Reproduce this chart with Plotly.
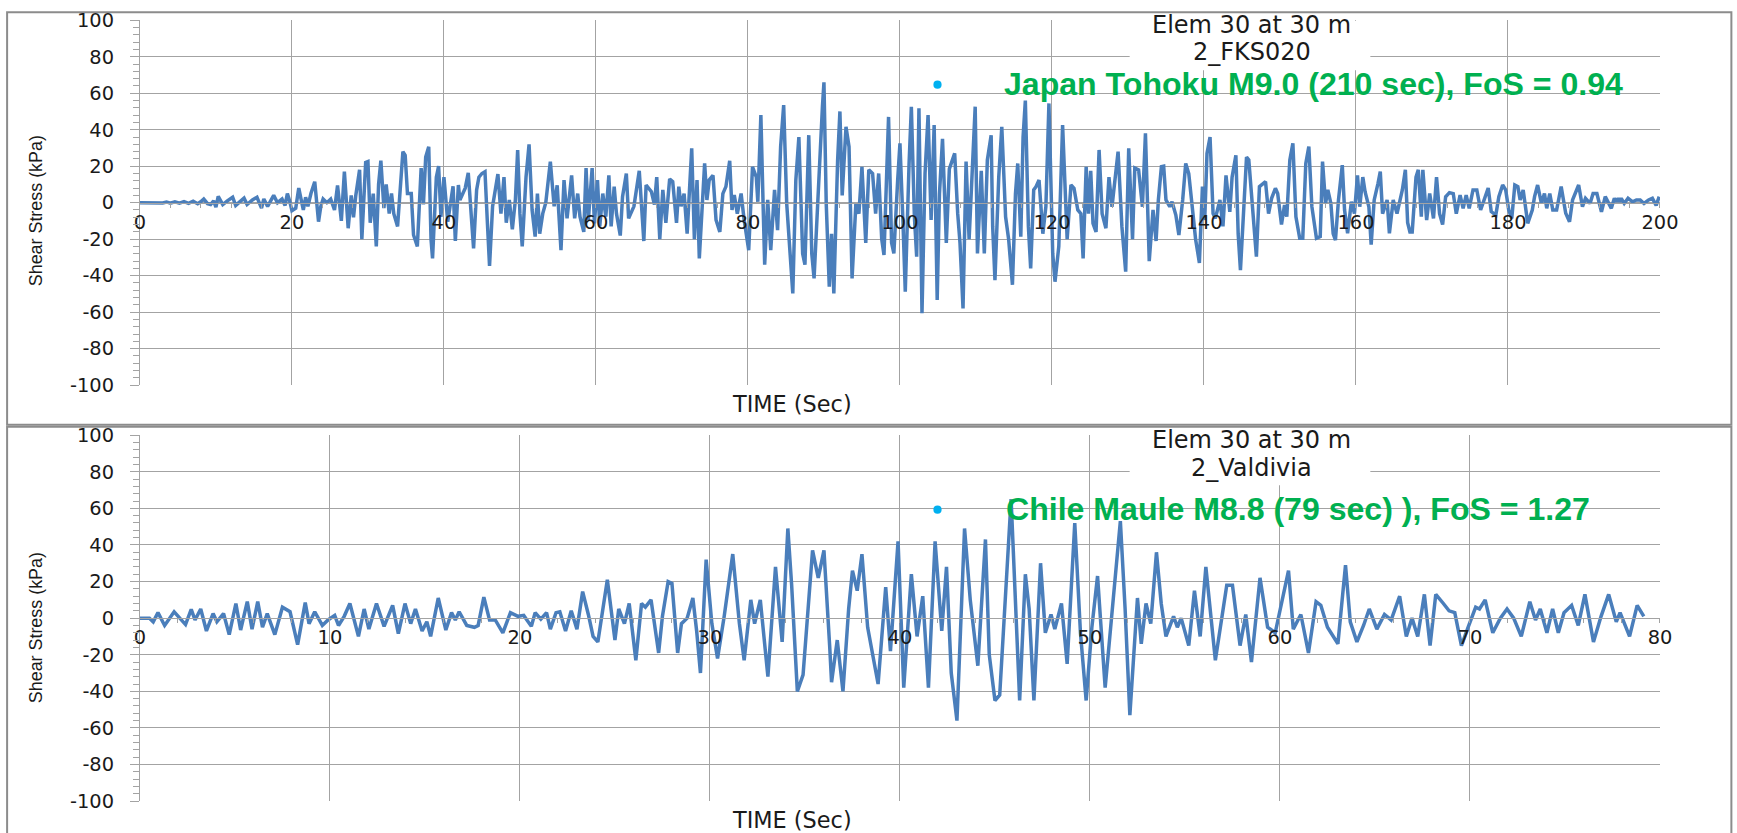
import plotly.graph_objects as go

# Layout is designed in page pixels of a 1737x833 canvas; the page adds an
# 8 px inset and the capture shrinks the page slightly, so page positions
# are mapped back through that inset and scale before use.
SX, SY = 0.987, 0.973
INSET = 8
W, H = 1752, 848
FONT_K = 1.0 / 0.98

# ---- Japan Tohoku record (element 30 at 30 m, 2_FKS020) ----
tohoku_time = [
    0, 1, 2, 3, 3.5, 4, 4.6, 5.2, 5.8, 6.4, 7, 7.6, 8.0, 8.4, 8.9, 9.3, 9.7, 10.0, 10.3, 10.9,
    11.5, 12.2, 12.6, 13.0, 13.3, 13.7, 14.1, 14.8, 15.4, 15.7, 16.0, 16.3, 16.8, 17.2, 17.6, 18.1,
    18.7, 19.1, 19.4, 19.7, 20.0, 20.5, 20.9, 21.2, 21.5, 21.8, 22.1, 22.5, 23.0, 23.5, 23.8, 24.1,
    24.6, 25.1, 25.6, 26.0, 26.3, 26.5, 26.9, 27.2, 27.4, 27.8, 28.1, 28.4, 28.9, 29.2, 29.7, 30.0,
    30.3, 30.7, 31.1, 31.4, 31.7, 32.1, 32.4, 32.8, 33.1, 33.4, 33.9, 34.6, 34.9, 35.2, 35.7, 36.0,
    36.5, 37.0, 37.3, 37.6, 38.0, 38.3, 38.5, 39.0, 39.3, 39.6, 40.0, 40.5, 40.9, 41.2, 41.5, 41.9,
    42.1, 42.5, 42.8, 43.2, 43.6, 43.9, 44.3, 44.6, 45.0, 45.4, 45.7, 46.0, 46.4, 46.8, 47.1, 47.5,
    47.9, 48.2, 48.6, 49.0, 49.4, 49.7, 50.0, 50.3, 50.8, 51.2, 51.6, 52.0, 52.3, 52.6, 53.0, 53.4,
    53.7, 54.0, 54.5, 54.9, 55.4, 55.8, 56.2, 56.8, 57.2, 57.6, 57.9, 58.4, 58.7, 59.0, 59.5, 59.8,
    60.2, 60.5, 60.9, 61.3, 61.7, 62.0, 62.4, 62.7, 63.2, 63.5, 64.0, 64.3, 65.0, 65.7, 66.3, 66.6,
    67.3, 67.7, 68.0, 68.4, 68.8, 69.2, 69.7, 70.1, 70.6, 70.9, 71.2, 71.6, 72.0, 72.3, 72.6, 72.95,
    73.3, 73.6, 74.0, 74.3, 74.6, 74.9, 75.4, 75.8, 76.3, 76.7, 77.1, 77.6, 77.9, 78.2, 78.6, 79.1,
    79.5, 80.1, 80.6, 81.1, 81.3, 81.7, 82.0, 82.2, 82.6, 83.0, 83.5, 83.9, 84.3, 84.7, 85.1, 85.4,
    85.9, 86.3, 86.7, 87.2, 87.5, 88.0, 88.4, 88.7, 89.2, 89.5, 89.8, 90.0, 90.3, 90.7, 91.0, 91.3,
    91.8, 92.1, 92.4, 92.9, 93.3, 93.7, 94.2, 94.6, 95.0, 95.5, 95.9, 96.4, 96.8, 97.2, 97.6, 97.9,
    98.5, 98.9, 99.2, 99.7, 100.0, 100.4, 100.7, 101.2, 101.5, 101.9, 102.2, 102.5, 102.9, 103.3,
    103.7, 104.1, 104.5, 104.9, 105.2, 105.6, 106.1, 106.5, 107.2, 107.6, 107.9, 108.3, 108.7, 109.1,
    109.6, 109.9, 110.2, 110.7, 111.1, 111.5, 112.0, 112.2, 112.5, 113.0, 113.4, 113.9, 114.3, 114.8,
    115.2, 115.5, 115.9, 116.2, 116.5, 116.9, 117.2, 117.6, 117.9, 118.3, 118.8, 119.2, 119.6, 120.1,
    120.4, 120.9, 121.4, 121.8, 122.0, 122.5, 122.9, 123.4, 123.8, 124.1, 124.5, 124.8, 125.1, 125.4,
    125.8, 126.2, 126.6, 127.1, 127.5, 127.9, 128.3, 128.7, 129.2, 129.7, 130.1, 130.6, 130.9, 131.4,
    131.9, 132.3, 132.8, 133.3, 133.7, 134.0, 134.4, 134.7, 135.0, 135.5, 135.8, 136.3, 136.7, 137.2,
    137.6, 138.0, 138.5, 138.9, 139.4, 139.8, 140.1, 140.4, 140.8, 141.2, 141.5, 142.1, 142.5, 142.9,
    143.4, 143.7, 144.2, 144.5, 144.8, 145.2, 145.6, 145.9, 146.4, 146.9, 147.3, 147.8, 148.1, 148.5,
    148.9, 149.4, 149.7, 150.2, 150.6, 150.9, 151.3, 151.7, 152.1, 152.6, 153.0, 153.4, 153.8, 154.2,
    154.8, 155.3, 155.6, 156.0, 156.3, 156.7, 157.0, 157.3, 157.7, 158.2, 158.5, 158.9, 159.4, 159.8,
    160.2, 160.5, 160.9, 161.2, 161.7, 162.0, 162.4, 162.9, 163.2, 163.5, 164.1, 164.4, 164.9, 165.4,
    165.8, 166.1, 166.5, 166.8, 167.1, 167.4, 167.9, 168.2, 168.6, 168.8, 169.3, 169.7, 170.2, 170.6,
    171.0, 171.4, 171.8, 172.3, 172.8, 173.2, 173.7, 174.1, 174.5, 174.9, 175.4, 175.9, 176.4, 176.9,
    177.4, 177.8, 178.4, 178.8, 179.3, 179.7, 180.1, 180.5, 180.9, 181.3, 181.6, 182.0, 182.6, 183.2,
    183.5, 183.9, 184.4, 184.8, 185.1, 185.5, 185.9, 186.4, 187.0, 187.6, 188.1, 188.5, 189.0, 189.3,
    189.8, 190.2, 190.8, 191.2, 191.7, 192.3, 192.8, 193.1, 193.6, 194.0, 194.25, 194.5, 194.7, 194.9,
    195.3, 195.8, 196.4, 196.9, 197.4, 197.9, 198.5, 199.0, 199.5, 199.9,
]
tohoku_stress = [
    0, 0, 0.2, -0.2, 0.4, -0.3, 0.5, -0.3, 0.6, -0.4, 0.8, -0.6, 0.5, 2, -0.5, -1, 1, -2.5, 3.5, -1,
    1, 3, -1.5, 0, 1, 2.5, -1, 1.5, 3, -0.5, -3, 2, -2, 1, 4, 0,
    2, -1.5, 5, 1, -4.4, -3, 8, 2, -4, 3, -2, 5, 11.5, -10.4, -2, 2,
    0, 2, -4, 9.5, -5, -10, 17, -2, -14, 4, -8, 4, 18, -20, 22, 22.5,
    -11, 5, -24, 10, 23, -3, 10, -6, 5, -6, -13, 28, 26, 5, 5, -17.7,
    -24, 19, -1, 25, 30.7, -20, -30.5, 14, 20, -7.7, 14, -10.4, 0, 9, -21, 9.7,
    1.5, 5, 8, 16.4, -11, -25, 7, 14, 16, 17, -9.5, -34.7, -2, 9, 15.7, -6,
    14, -11, 1.5, -14.6, 1.5, 28.9, -6, -24, 14, 32, -4, -18.6, 5, -17, -6, 0,
    12.4, 22.5, -2, 9.5, -26, 12.4, -8.6, 15, -8.6, 5, -7.7, -16, 19, -9.5, 19, -11.3,
    12.4, -13, 5, -7.7, 15, -13, 8.8, -6, -18, 3.3, 16, -8.6, -2, 17.5, -21, 9.7,
    6, -1, 14, -20, 7, -11, 13, 11.5, -11, 8.8, -2, 5, -17, 10.6, 29.8, -20,
    12.4, -30.5, 5, 21.5, 1.5, 12.4, 15, -9.5, -16, 5, 8.8, 23, -4, 4.2, -6, 5,
    -9.5, -26, 19.7, 14, 0.5, 48, -2, -34, 1.5, -26, 7, -15, 30.7, 53.5, -0.5, -20,
    -49.7, 12.4, 36, -28, -34, 37, -28, -41.5, 5, 24, 52.6, 66, -0.5, -46, -17, -49.7,
    23.4, 50, 4, 41.6, 30.7, -41.5, -0.5, -6, 19.7, -22, 18, 16, -6, 16, -20, -28.7,
    47, -22, -27.8, 12.4, 32.5, -11, -48.8, 21.5, 52.6, -7.7, -29.6, 51.7, -60.6, 16,
    48, -9.5, 42.5, -53.3, 5, 35, -22, 18.5, 27, -6, -22, -58, 22.5, -20,
    28.9, 52.6, -27.8, 17.5, -27.8, 23.4, 37, -13, -42.4, 14, 41.6, -7.7, -20, -45,
    5, 21.5, -18.6, 36, 56, -13, -36, 7, 8.8, 12.4, -17, -2.2, 54.4, -27.8,
    -43.3, -24, 42.5, -6, -20, 9.7, 7.9, -4, -6, -30.5, 19.7, -6, 17.5, -11.3,
    -16, 28.9, -6, -14, 14, -2.2, 14, 28, -13, -37.8, 29.8, -20, 19, 18,
    -2.2, 38, -32, -4, -21, 1.5, 19.7, 20, 1.5, -2.2, 0.5, -6.8, -17.7, 1.5,
    21.5, 16, -4, -20, -33, 8.8, -9.5, 27, 36, -6, -8.6, 1.5, -13, 15,
    -5, 14, 26, -17, -37, -4, 25, 23.4, -6, -29.6, 8.8, 10.6, 11.5, -6,
    2.4, 7.9, 5, -12, -1.3, -7.7, 23.4, 32.5, -7.7, -19.5, -19.5, 21.5, 30.7, -2.2,
    -19.5, -18.6, 22.5, -0.4, 7, -0.4, -17, -20.5, 1.5, 20.6, -4, -16.8, 0.5, -6,
    15, -2.2, 14, 6, -2.2, -23, 1.5, 10.6, 17, -6, 1.5, -16.8, 1.5, -6,
    1.5, 7, 18, -11, -16, -16, 14, 18, -7.7, 18, -9.5, 5, -8.6, 14,
    -6, -12, 3.3, 5.5, 5, -6, 4.2, -3.1, 4.2, -3.1, 7, 7, -4, 1.5,
    8, -4.9, -6.8, 3.3, 9.7, 7, -4, -8.6, 9.7, 8.8, 1.5, 7, -11.3, -4,
    3.3, 9.7, -0.4, 5, -3.1, 5, -4, -4, 8.8, -5.8, -10.4, 1.5, 7, 9.7,
    -2.2, 2.4, -0.4, 5, 5, -5, 3.3, 0.5, -3.1, 2.4, 0.5, 2.4, 0.5, 2.4,
    -0.4, 2.4, 0.5, 1.5, 1.5, -0.4, 1.5, 2.4, -1.5, 3.3,
]

# ---- Chile Maule record (element 30 at 30 m, 2_Valdivia) ----
maule_time = [
    0, 0.5, 0.7, 0.95, 1.3, 1.8, 2.4, 2.7, 2.9, 3.2, 3.5, 3.85, 4.05, 4.4, 4.7, 5.05, 5.3, 5.65,
    5.9, 6.2, 6.45, 6.7, 7.1, 7.5, 7.9, 8.3, 8.7, 8.9, 9.2, 9.6, 9.9, 10.25, 10.45, 10.75, 11.05,
    11.5, 11.8, 12.05, 12.45, 12.85, 13.3, 13.6, 13.95, 14.25, 14.5, 14.85, 15.1, 15.3, 15.7, 16.1,
    16.4, 16.6, 16.8, 17.2, 17.6, 17.8, 18.1, 18.4, 18.7, 19.1, 19.5, 19.9, 20.2, 20.6, 20.8, 21.1,
    21.4, 21.6, 21.9, 22.1, 22.4, 22.7, 23.0, 23.3, 23.6, 23.85, 24.1, 24.6, 25.0, 25.2, 25.5,
    25.75, 26.1, 26.4, 26.6, 26.9, 27.3, 27.5, 27.8, 28.0, 28.3, 28.5, 28.8, 29.1, 29.3, 29.5, 29.8,
    30.1, 30.4, 30.75, 31.2, 31.55, 31.8, 32.15, 32.35, 32.65, 33.05, 33.45, 33.8, 34.1, 34.3, 34.6,
    34.9, 35.4, 35.7, 36.0, 36.3, 36.4, 36.7, 37.0, 37.3, 37.5, 37.75, 38.0, 38.3, 38.85, 39.25,
    39.5, 39.9, 40.2, 40.6, 40.9, 41.2, 41.5, 41.85, 42.2, 42.45, 42.7, 43.0, 43.4, 43.7, 44.1,
    44.5, 44.7, 45.0, 45.25, 45.85, 46.3, 46.6, 46.8, 47.05, 47.4, 47.65, 47.95, 48.15, 48.5, 48.8,
    49.2, 49.5, 49.8, 50.1, 50.4, 50.8, 51.1, 51.6, 51.85, 52.1, 52.5, 52.7, 52.95, 53.2, 53.5,
    53.75, 54.0, 54.4, 54.6, 54.8, 55.2, 55.5, 55.8, 56.1, 56.6, 57.2, 57.5, 57.9, 58.2, 58.5,
    58.95, 59.35, 59.75, 60.45, 60.7, 61.1, 61.5, 61.9, 62.15, 62.5, 63.05, 63.45, 63.7, 64.05,
    64.4, 64.7, 65.1, 65.5, 65.85, 66.3, 66.65, 66.95, 67.25, 67.6, 67.9, 68.2, 68.6, 68.9, 69.2,
    69.55, 69.9, 70.3, 70.5, 70.8, 71.2, 71.6, 71.95, 72.3, 72.7, 73.15, 73.45, 73.7, 74.05, 74.35,
    74.65, 74.95, 75.35, 75.7, 76.05, 76.5, 76.9, 77.3, 77.7, 77.9, 78.4, 78.8, 79.15,
]
maule_stress = [
    0, 0, -2, 3, -4, 3.5, -3.5, 4.8, -1, 5, -7, 2.5, -2, 2.5, -9, 8, -6.5, 9,
    -6, 9, -5, 2.5, -9, 6, 3.5, -14.5, 8.5, -3, 3.5, -4, -1, 1.5, -4, 1, 8,
    -10, 5, -6, 8, -4.5, 7, -8.5, 8, -3, 5, -7, -2, -10, 11, -6.5,
    3, -1, 3.5, -4, -5, -4, 11.5, -1, -1, -8, 3, 1, 1.5, -4.5, 3, -0.5,
    3, -6, 3, 3.5, -7, 4, -6, 14.5, 2, -10, -13, 21, -12, 5, -3,
    8, -23, 8, 6, 10, -19, 1, 20, 19, -19, -3, 0, 11, -7, -30, 32,
    -3, -22, 1, 35, -3, -23, 10, -3, 10, -32, 28, -13, 49, 18, -40,
    -31, 37, 22, 37, -15, -35, -12, -40, 5, 26, 15, 35, -5, -36, 17,
    -18, 42, -38, 24, -10, 12, -38, 42, -7, 28, -30, -56, 49, 10, -26,
    43, -20, -45, -42, 65, -45, 24, 5, -45, 30, -8, 2, -6, 8, -25,
    52, -8, -45, -5, 23, -38, -3, 53, 5, -53, 11, -14, 8, -3, 36,
    8, -10, 1, -5, 0, -15, 15, -10, 28, -23, 18, 18, -15, 2, -24,
    22, -5, -8, 26, -6, 2, -19, 9, 7, -5, -14, 29, -2, -13,
    -4, 5, -6, 2, -1, 12, -10, 0, -10, 13, -15, 13, 8, 4, 3,
    -15, -5, 6, 5, 10, -8, 0, 5, 0, -10, 9, -1, 5, -8, 5,
    -8, 3, 7, -4, 13, -13, 1, 13, -2, 3, -10, 7, 1,
]

stress_ticks = list(range(-100, 101, 20))
tohoku_ticks = list(range(0, 201, 20))
maule_ticks = list(range(0, 81, 10))


def px(x):
    """Page x (pixels) -> paper fraction."""
    return (x / SX - INSET) / W


def py(y):
    """Page y (pixels, from top) -> paper fraction."""
    return 1 - (y / SY - INSET) / H


def fs(size):
    return round(size * FONT_K, 1)


LINE = "#4a7ebb"
GRID = "#a3a3a3"
FRAME = "#8c8c8c"
TEXT = "#1a1a1a"
GREEN = "#00b050"
CYAN = "#00b0f0"
tick_font = dict(family="DejaVu Sans", size=fs(19), color=TEXT)

x_dom = [px(142), px(1664)]
top_dom = [py(382), py(17)]
bot_dom = [py(798), py(432)]

fig = go.Figure()
fig.add_trace(go.Scatter(x=tohoku_time, y=tohoku_stress, mode="lines",
                         line=dict(color=LINE, width=3.5), xaxis="x", yaxis="y",
                         showlegend=False, hoverinfo="skip"))
fig.add_trace(go.Scatter(x=maule_time, y=maule_stress, mode="lines",
                         line=dict(color=LINE, width=3.5), xaxis="x2", yaxis="y2",
                         showlegend=False, hoverinfo="skip"))


def time_axis(dom_y, rng, ticks, minor_step):
    return dict(
        domain=x_dom, range=rng, anchor="free", position=(dom_y[0] + dom_y[1]) / 2,
        tickvals=ticks, ticktext=[str(t) for t in ticks], tickfont=tick_font,
        showgrid=True, gridcolor=GRID, gridwidth=1, zeroline=False,
        showline=True, linecolor=GRID, linewidth=1, ticks="",
        ticklabelstandoff=2,
        minor=dict(dtick=minor_step, tick0=0, ticks="outside", ticklen=4,
                   tickcolor=GRID, showgrid=False),
        fixedrange=True,
    )


def stress_axis(dom_y, anchor):
    return dict(
        domain=dom_y, range=[-100, 100], anchor=anchor,
        tickvals=stress_ticks, ticktext=[str(v) for v in stress_ticks], tickfont=tick_font,
        showgrid=True, gridcolor=GRID, gridwidth=1, zeroline=False,
        showline=True, linecolor=GRID, linewidth=1,
        ticks="outside", ticklen=9, tickcolor=GRID, ticklabelstandoff=12,
        minor=dict(dtick=4, tick0=0, ticks="outside", ticklen=6, tickcolor=GRID,
                   showgrid=False),
        fixedrange=True,
    )


shapes = []
# chart frames
shapes.append(dict(type="rect", xref="paper", yref="paper", x0=px(9), x1=px(1735.5),
                   y0=py(421.7), y1=py(9), line=dict(color=FRAME, width=2), layer="below"))
shapes.append(dict(type="rect", xref="paper", yref="paper", x0=px(9), x1=px(1735.5),
                   y0=py(845), y1=py(423.5), line=dict(color=FRAME, width=2), layer="below"))
# legend boxes
for top in (17, 432):
    shapes.append(dict(type="rect", xref="paper", yref="paper", x0=px(1133), x1=px(1374),
                       y0=py(top + 50), y1=py(top + 0.5), fillcolor="white",
                       line=dict(width=0), layer="above"))
# bullets in front of the event captions
for cy in (81.5, 506.5):
    shapes.append(dict(type="circle", xref="paper", yref="paper", x0=px(936.5), x1=px(944.7),
                       y0=py(cy + 4.1), y1=py(cy - 4.1), fillcolor=CYAN,
                       line=dict(width=0), layer="above"))

annotations = []
for yc, xt in ((208, 401), (625, 817)):
    annotations.append(dict(text="TIME (Sec)", x=px(795), y=py(xt), xref="paper", yref="paper",
                            showarrow=False, xanchor="center", yanchor="middle",
                            font=dict(family="DejaVu Sans", size=fs(22), color=TEXT)))
    annotations.append(dict(text="Shear Stress (kPa)", x=px(38), y=py(yc), xref="paper",
                            yref="paper", showarrow=False, textangle=-90,
                            xanchor="center", yanchor="middle",
                            font=dict(family="Liberation Sans", size=fs(17.5), color=TEXT)))

legend_rows = [(22, "Elem 30 at 30 m"), (49, "2_FKS020"),
               (437, "Elem 30 at 30 m"), (465, "2_Valdivia")]
for yc, txt in legend_rows:
    annotations.append(dict(text=txt, x=px(1255), y=py(yc), xref="paper", yref="paper",
                            showarrow=False, xanchor="center", yanchor="middle",
                            font=dict(family="DejaVu Sans", size=fs(23.5), color=TEXT)))

captions = [(1005, 81, "Japan Tohoku M9.0 (210 sec), FoS = 0.94"),
            (1007.6, 506, "Chile Maule M8.8 (79 sec) ), FoS = 1.27")]
for xl, yc, txt in captions:
    annotations.append(dict(text="<b>" + txt + "</b>", x=px(xl), y=py(yc), xref="paper",
                            yref="paper", showarrow=False, xanchor="left", yanchor="middle",
                            font=dict(family="Liberation Sans", size=fs(31.5), color=GREEN)))

fig.update_layout(
    width=W, height=H, autosize=False,
    margin=dict(l=0, r=0, t=0, b=0, pad=0),
    paper_bgcolor="white", plot_bgcolor="white",
    xaxis=time_axis(top_dom, [0, 200], tohoku_ticks, 4),
    yaxis=stress_axis(top_dom, "x"),
    xaxis2=time_axis(bot_dom, [0, 80], maule_ticks, 2),
    yaxis2=stress_axis(bot_dom, "x2"),
    shapes=shapes, annotations=annotations,
    showlegend=False,
)

fig.write_html("out.html", config=dict(displayModeBar=False))
